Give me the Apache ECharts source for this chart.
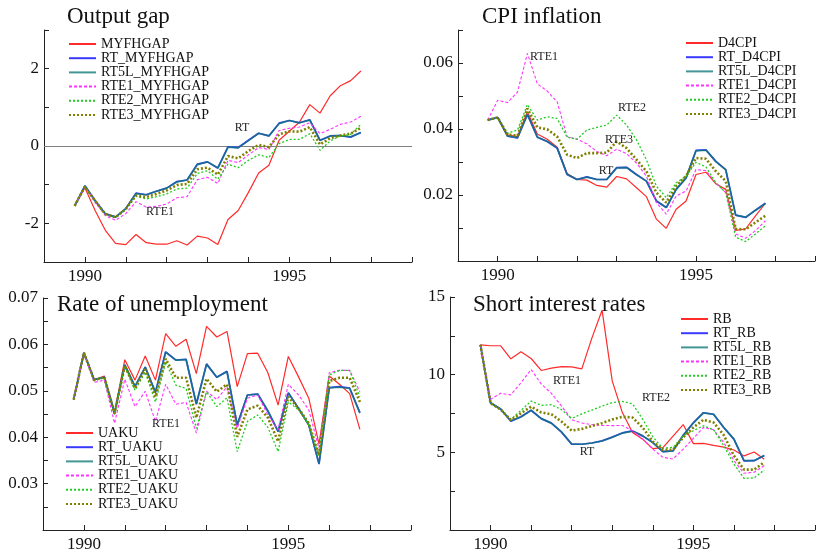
<!DOCTYPE html>
<html>
<head>
<meta charset="utf-8">
<script src="https://cdn.jsdelivr.net/npm/echarts@6/dist/echarts.min.js"></script>
<style>
html,body{margin:0;padding:0;background:#fff;}
#chart{width:818px;height:553px;}
</style>
</head>
<body>
<div id="chart"></div>
<script>
// ---- DATA ----
const quarters = ['1989Q4','1990Q1','1990Q2','1990Q3','1990Q4','1991Q1','1991Q2','1991Q3','1991Q4',
  '1992Q1','1992Q2','1992Q3','1992Q4','1993Q1','1993Q2','1993Q3','1993Q4','1994Q1','1994Q2','1994Q3','1994Q4',
  '1995Q1','1995Q2','1995Q3','1995Q4','1996Q1','1996Q2','1996Q3','1996Q4'];

// Output gap
const gapActual = [-1.55,-1.08,-1.67,-2.18,-2.52,-2.55,-2.29,-2.5,-2.54,-2.54,-2.45,-2.56,-2.33,-2.38,-2.55,-1.9,-1.67,-1.2,-0.7,-0.5,0.15,0.38,0.62,1.07,0.85,1.3,1.56,1.69,1.94];
const gapRT = [-1.55,-1.03,-1.41,-1.75,-1.84,-1.62,-1.22,-1.26,-1.17,-1.09,-0.92,-0.88,-0.47,-0.41,-0.57,-0.02,-0.04,0.15,0.33,0.26,0.59,0.66,0.6,0.68,0.15,0.26,0.27,0.23,0.35];
const gapRT5L = [-1.55,-1.03,-1.42,-1.76,-1.84,-1.62,-1.23,-1.26,-1.17,-1.09,-0.93,-0.88,-0.48,-0.41,-0.57,-0.03,-0.05,0.14,0.33,0.26,0.58,0.66,0.6,0.67,0.14,0.26,0.27,0.24,0.35];
const gapRTE1 = [-1.55,-1.05,-1.45,-1.8,-1.92,-1.75,-1.44,-1.58,-1.56,-1.5,-1.34,-1.31,-0.87,-0.81,-0.97,-0.37,-0.43,-0.23,-0.04,-0.09,0.4,0.46,0.49,0.6,0.32,0.43,0.56,0.62,0.77];
const gapRTE2 = [-1.55,-1.05,-1.43,-1.76,-1.85,-1.63,-1.3,-1.37,-1.31,-1.24,-1.11,-1.09,-0.71,-0.64,-0.86,-0.47,-0.56,-0.37,-0.23,-0.3,0.06,0.17,0.17,0.32,-0.11,0.13,0.26,0.3,0.56];
const gapRTE3 = [-1.55,-1.05,-1.42,-1.76,-1.84,-1.63,-1.28,-1.32,-1.24,-1.15,-1.01,-0.98,-0.6,-0.56,-0.74,-0.26,-0.32,-0.13,0.03,-0.03,0.3,0.38,0.37,0.49,0.04,0.2,0.27,0.32,0.47];

// CPI inflation
const cpiActual = [0.0427,0.0435,0.0382,0.0377,0.0452,0.0385,0.0369,0.0345,0.0265,0.0247,0.0245,0.0229,0.0224,0.0256,0.0249,0.0222,0.0195,0.0127,0.0099,0.0157,0.0182,0.0262,0.0269,0.0234,0.0217,0.0093,0.0097,0.0137,0.0175];
const cpiRT = [0.0427,0.0435,0.0378,0.0373,0.0444,0.0375,0.0362,0.0342,0.0262,0.0247,0.0255,0.0247,0.0247,0.0283,0.0284,0.0262,0.0242,0.0182,0.0162,0.0217,0.0252,0.0335,0.0337,0.0302,0.0277,0.0139,0.0132,0.0154,0.0175];
const cpiRT5L = [0.0427,0.0435,0.0379,0.0374,0.0444,0.0376,0.0362,0.0342,0.0263,0.0247,0.0254,0.0247,0.0247,0.0282,0.0283,0.0261,0.0242,0.0183,0.0162,0.0217,0.0252,0.0334,0.0336,0.0301,0.0276,0.0139,0.0133,0.0154,0.0174];
const cpiRTE1 = [0.0427,0.0487,0.048,0.0512,0.0629,0.0537,0.0515,0.0482,0.0377,0.0369,0.0355,0.0332,0.0319,0.0339,0.0325,0.0297,0.0257,0.0177,0.0142,0.0197,0.0212,0.0277,0.0274,0.0237,0.0207,0.0082,0.0069,0.0092,0.0122];
const cpiRTE2 = [0.0427,0.0435,0.0387,0.0397,0.0474,0.0427,0.0437,0.0432,0.0375,0.0369,0.0397,0.0405,0.0412,0.0442,0.0412,0.0367,0.0307,0.0227,0.0192,0.0237,0.0257,0.0299,0.0285,0.0237,0.0207,0.0072,0.0059,0.0082,0.0107];
const cpiRTE3 = [0.0427,0.0435,0.0383,0.038,0.0462,0.0405,0.0399,0.0377,0.0322,0.0312,0.0327,0.0327,0.0328,0.0362,0.0342,0.0307,0.0272,0.0207,0.0177,0.0227,0.0257,0.0312,0.031,0.0272,0.0242,0.0097,0.0096,0.0117,0.0137];

// Rate of unemployment
const uActual = [0.0481,0.0582,0.0523,0.0532,0.0453,0.0567,0.0523,0.0575,0.0523,0.0623,0.0596,0.0611,0.0537,0.0639,0.0616,0.0628,0.0509,0.058,0.0581,0.0539,0.0469,0.0574,0.053,0.0484,0.0385,0.0532,0.0514,0.0494,0.0417];
const uRT = [0.0481,0.0582,0.0524,0.0529,0.0451,0.0556,0.0509,0.0551,0.0496,0.0584,0.0566,0.0568,0.0471,0.0558,0.0529,0.0542,0.0426,0.0491,0.0493,0.0456,0.0412,0.0496,0.0462,0.0426,0.0342,0.0507,0.0509,0.0506,0.0453];
const uRT5L = [0.0481,0.0582,0.0524,0.0529,0.0452,0.0556,0.051,0.0551,0.0497,0.0583,0.0566,0.0567,0.0472,0.0557,0.0529,0.0541,0.0427,0.0491,0.0493,0.0457,0.0413,0.0495,0.0462,0.0427,0.0343,0.0506,0.0508,0.0505,0.0452];
const uRTE1 = [0.0481,0.0582,0.0518,0.0523,0.043,0.0525,0.0466,0.0499,0.0434,0.0514,0.0471,0.0475,0.0409,0.0499,0.0481,0.0509,0.0419,0.0484,0.0491,0.0448,0.0416,0.0514,0.0491,0.0459,0.0376,0.0539,0.0544,0.0544,0.0498];
const uRTE2 = [0.0481,0.0582,0.0524,0.0529,0.0449,0.0554,0.0501,0.054,0.0476,0.0562,0.0512,0.0505,0.0419,0.0498,0.0466,0.0485,0.0369,0.0434,0.0448,0.0421,0.0369,0.0476,0.0459,0.0426,0.036,0.0534,0.0544,0.0544,0.0487];
const uRTE3 = [0.0481,0.0582,0.0523,0.0529,0.0451,0.0554,0.0505,0.0546,0.0487,0.0569,0.0528,0.0528,0.0442,0.0526,0.0498,0.0514,0.0401,0.046,0.0468,0.0442,0.0391,0.0487,0.0462,0.043,0.0361,0.0521,0.0528,0.0528,0.0476];

// Short interest rates
const rbActual = [11.92,11.86,11.86,11.02,11.47,11.04,10.27,10.42,10.52,10.5,10.37,12.37,14.15,9.6,7.56,6.28,5.85,5.24,5.3,6.05,6.79,5.56,5.58,5.45,5.34,5.15,4.77,5.02,4.55];
const rbRT = [11.92,8.19,7.79,7.01,7.29,7.71,7.17,6.88,6.3,5.53,5.52,5.6,5.74,5.98,6.25,6.38,6.06,5.63,5.04,5.1,6.1,6.9,7.55,7.45,6.6,5.85,4.45,4.46,4.8];
const rbRT5L = [11.92,8.18,7.78,7.02,7.28,7.7,7.17,6.88,6.31,5.54,5.52,5.6,5.73,5.97,6.24,6.37,6.06,5.63,5.05,5.1,6.09,6.89,7.54,7.44,6.6,5.85,4.46,4.47,4.79];
const rbRTE1 = [11.92,8.41,8.8,8.7,9.48,10.33,9.4,8.8,7.98,7.1,6.89,6.78,6.73,6.72,6.73,6.39,5.85,5.21,4.68,4.57,5.21,5.9,6.6,6.45,5.64,4.47,3.65,3.72,4.15];
const rbRTE2 = [11.92,8.16,7.75,7.12,7.7,8.3,8.02,8.07,7.75,7.18,7.48,7.72,7.98,8.2,8.28,8.12,7.14,6.0,5.26,5.32,6.07,6.39,6.71,6.45,5.43,4.25,3.33,3.35,3.87];
const rbRTE3 = [11.92,8.16,7.75,7.08,7.52,7.94,7.57,7.45,6.98,6.4,6.51,6.7,6.88,7.12,7.29,7.24,6.6,5.7,5.17,5.17,5.96,6.6,7.1,6.92,6.11,4.79,3.89,3.89,4.36];

const xTickLabels = [1990, 1995];

// ---- CHART ----
const FONT = '"Liberation Serif", "Times New Roman", serif';
const qx = quarters.map(q => Number(q.slice(0, 4)) + (Number(q[5]) - 1) / 4);
const pairs = arr => qx.map((x, i) => [x, arr[i]]);

const styles = [
  {color: '#ff2a2a', width: 1.2, type: 'solid', opacity: 1},
  {color: '#3a3aff', width: 1.7, type: 'solid', opacity: 1},
  {color: '#107878', width: 1.7, type: 'solid', opacity: 0.78},
  {color: '#ff33ff', width: 1.1, type: [3, 2], opacity: 1},
  {color: '#22cc22', width: 1.3, type: [2, 2], opacity: 1},
  {color: '#808000', width: 2.6, type: [2, 2], opacity: 1}
];

const panels = [
  {names: ['MYFHGAP','RT_MYFHGAP','RT5L_MYFHGAP','RTE1_MYFHGAP','RTE2_MYFHGAP','RTE3_MYFHGAP'],
   data: [gapActual, gapRT, gapRT5L, gapRTE1, gapRTE2, gapRTE3]},
  {names: ['D4CPI','RT_D4CPI','RT5L_D4CPI','RTE1_D4CPI','RTE2_D4CPI','RTE3_D4CPI'],
   data: [cpiActual, cpiRT, cpiRT5L, cpiRTE1, cpiRTE2, cpiRTE3]},
  {names: ['UAKU','RT_UAKU','RT5L_UAKU','RTE1_UAKU','RTE2_UAKU','RTE3_UAKU'],
   data: [uActual, uRT, uRT5L, uRTE1, uRTE2, uRTE3]},
  {names: ['RB','RT_RB','RT5L_RB','RTE1_RB','RTE2_RB','RTE3_RB'],
   data: [rbActual, rbRT, rbRT5L, rbRTE1, rbRTE2, rbRTE3]}
];

const grids = [
  {left: 44, top: 30, width: 368, height: 232},
  {left: 458, top: 30, width: 368, height: 231},
  {left: 43, top: 298, width: 368, height: 234},
  {left: 450, top: 297, width: 376, height: 234}
];

const axisLine = {show: true, onZero: false, lineStyle: {color: '#222', width: 1}};
const axisTick = {show: true, inside: true, length: 5, lineStyle: {color: '#222', width: 1}};
const labelStyle = {fontFamily: FONT, fontSize: 17, color: '#111'};

const xAxes = grids.map((g, i) => ({
  type: 'value', gridIndex: i, min: 1989, max: 1998, interval: 1,
  axisLine, axisTick, splitLine: {show: false},
  axisLabel: Object.assign({margin: 6, formatter: v => xTickLabels.includes(v) ? String(v) : ''}, labelStyle)
}));

const yDefs = [
  {min: -3, max: 3, interval: 1, fmt: v => (Math.round(v) % 2 === 0 ? String(Math.round(v)) : '')},
  {min: 0, max: 0.07, interval: 0.01, fmt: v => { const r = Math.round(v * 100); return (r > 0 && r % 2 === 0) ? (r / 100).toFixed(2) : ''; }},
  {min: 0.02, max: 0.07, interval: 0.01, minor: true, fmt: v => { const r = Math.round(v * 100); return r > 2 ? (r / 100).toFixed(2) : ''; }},
  {min: 0, max: 15, interval: 5, minor: true, fmt: v => (v > 0 ? String(v) : '')}
];

const yAxes = yDefs.map((d, i) => ({
  type: 'value', gridIndex: i, min: d.min, max: d.max, interval: d.interval,
  axisLine, axisTick, splitLine: {show: false},
  minorTick: {show: !!d.minor, splitNumber: 2, length: 5, lineStyle: {color: '#222', width: 1}},
  minorSplitLine: {show: false},
  axisLabel: Object.assign({margin: 5, formatter: d.fmt}, labelStyle)
}));

const series = [];
panels.forEach((p, pi) => {
  p.names.forEach((name, si) => {
    const st = styles[si];
    const s = {
      type: 'line', name, xAxisIndex: pi, yAxisIndex: pi,
      data: pairs(p.data[si]), symbol: 'none', smooth: false, silent: true,
      lineStyle: {color: st.color, width: st.width, type: st.type, opacity: st.opacity},
      itemStyle: {color: st.color, opacity: 0},
      z: 2 + si
    };
    if (pi === 0 && si === 0) {
      s.markLine = {silent: true, symbol: 'none', label: {show: false},
        lineStyle: {color: '#808080', width: 1, type: 'solid', opacity: 1}, data: [{yAxis: 0}], z: 1};
    }
    series.push(s);
  });
});

const legendPos = [
  {left: 68, top: 37},
  {left: 685, top: 36},
  {left: 65, top: 426},
  {left: 680, top: 312}
];
const legends = panels.map((p, i) => ({
  data: p.names, orient: 'vertical', left: legendPos[i].left, top: legendPos[i].top,
  itemWidth: 27, itemHeight: 12, itemGap: 0.2, padding: 0, selectedMode: false,
  itemStyle: {opacity: 0},
  textStyle: {fontFamily: FONT, fontSize: 14, color: '#111', lineHeight: 12, padding: [0, 0, 0, 0]}
}));

function txt(text, x, y, size) {
  return {type: 'text', x, y, silent: true, z: 100,
    style: {text, font: size + 'px ' + FONT, fill: '#111', textAlign: 'left', textVerticalAlign: 'middle', align: 'left', verticalAlign: 'middle'}};
}
function ann(text, x, y) {
  return {type: 'text', x, y, silent: true, z: 100,
    style: {text, font: '12px ' + FONT, fill: '#222', textAlign: 'center', textVerticalAlign: 'middle', align: 'center', verticalAlign: 'middle'}};
}

const graphic = [
  txt('Output gap', 67, 17, 23),
  txt('CPI inflation', 482, 17, 23),
  txt('Rate of unemployment', 57, 305, 23),
  txt('Short interest rates', 473, 305, 23),
  ann('RT', 242, 128), ann('RTE1', 160, 212),
  ann('RTE1', 544, 57), ann('RTE2', 632, 108), ann('RTE3', 619, 140), ann('RT', 606, 171),
  ann('RTE1', 166, 424),
  ann('RTE1', 567, 381), ann('RTE2', 656, 398), ann('RT', 587, 452)
];

const chart = echarts.init(document.getElementById('chart'), null, {renderer: 'canvas'});
chart.setOption({
  animation: false,
  backgroundColor: '#ffffff',
  grid: grids,
  xAxis: xAxes,
  yAxis: yAxes,
  legend: legends,
  series,
  graphic
});
</script>
</body>
</html>
